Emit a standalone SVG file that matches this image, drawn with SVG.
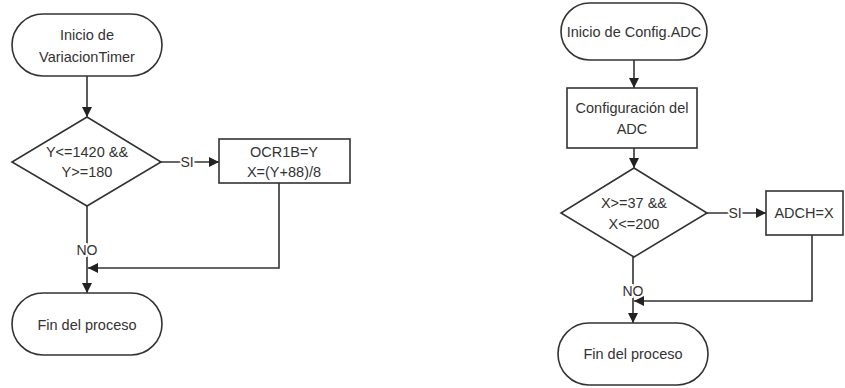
<svg xmlns="http://www.w3.org/2000/svg" width="845" height="388" viewBox="0 0 845 388">
<style>
.shape{fill:#fff;stroke:#333;stroke-width:1.6}
.line{fill:none;stroke:#333;stroke-width:1.6}
.t{font-family:"Liberation Sans",Arial,sans-serif;font-size:14.5px;fill:#333;text-anchor:middle}
.lbl{font-family:"Liberation Sans",Arial,sans-serif;font-size:14px;fill:#333;text-anchor:middle;stroke:#fff;stroke-width:4;paint-order:stroke}
</style>
<defs>
<marker id="ah" viewBox="0 0 10 10" refX="10" refY="5" markerWidth="10" markerHeight="10" markerUnits="userSpaceOnUse" orient="auto">
<path d="M0,0 L10,5 L0,10 Z" fill="#222"/>
</marker>
</defs>
<g id="connectors">
<line class="line" x1="87" y1="76" x2="87" y2="117" marker-end="url(#ah)"/>
<line class="line" x1="161" y1="162" x2="219" y2="162" marker-end="url(#ah)"/>
<text class="lbl" x="187" y="167">SI</text>
<line class="line" x1="87" y1="206" x2="87" y2="293" marker-end="url(#ah)"/>
<text class="lbl" x="87" y="255">NO</text>
<polyline class="line" points="279,183 279,268 88,268" marker-end="url(#ah)"/>
<line class="line" x1="634" y1="60" x2="634" y2="88" marker-end="url(#ah)"/>
<line class="line" x1="634" y1="148" x2="634" y2="168" marker-end="url(#ah)"/>
<line class="line" x1="707" y1="213" x2="766" y2="213" marker-end="url(#ah)"/>
<text class="lbl" x="735" y="218">SI</text>
<line class="line" x1="633" y1="257" x2="633" y2="323" marker-end="url(#ah)"/>
<text class="lbl" x="633" y="296">NO</text>
<polyline class="line" points="812,235 812,301 634,301" marker-end="url(#ah)"/>
</g>
<g id="start1">
<rect class="shape" x="12" y="14" width="150" height="62" rx="31" ry="31"/>
<text class="t" x="87" y="40">Inicio de</text>
<text class="t" x="87" y="62">VariacionTimer</text>
</g>
<g id="dec1">
<polygon class="shape" points="87,117 161,162 87,206 12,162"/>
<text class="t" x="87" y="157">Y&lt;=1420 &amp;&amp;</text>
<text class="t" x="87" y="177">Y&gt;=180</text>
</g>
<g id="proc1">
<rect class="shape" x="219" y="139" width="131" height="44"/>
<text class="t" x="284" y="157">OCR1B=Y</text>
<text class="t" x="284" y="177">X=(Y+88)/8</text>
</g>
<g id="end1">
<rect class="shape" x="12" y="293" width="150" height="62" rx="31" ry="31"/>
<text class="t" x="87" y="330">Fin del proceso</text>
</g>
<g id="start2">
<rect class="shape" x="561" y="3" width="146" height="57" rx="28.5" ry="28.5"/>
<text class="t" x="634" y="37">Inicio de Config.ADC</text>
</g>
<g id="proc2">
<rect class="shape" x="567" y="88" width="130" height="60"/>
<text class="t" x="632" y="113">Configuración del</text>
<text class="t" x="632" y="134">ADC</text>
</g>
<g id="dec2">
<polygon class="shape" points="634,168 707,213 634,257 561,213"/>
<text class="t" x="634" y="208">X&gt;=37 &amp;&amp;</text>
<text class="t" x="634" y="229">X&lt;=200</text>
</g>
<g id="proc3">
<rect class="shape" x="766" y="191" width="77" height="44"/>
<text class="t" x="804" y="218">ADCH=X</text>
</g>
<g id="end2">
<rect class="shape" x="558" y="323" width="150" height="62" rx="31" ry="31"/>
<text class="t" x="633" y="359">Fin del proceso</text>
</g>
</svg>
